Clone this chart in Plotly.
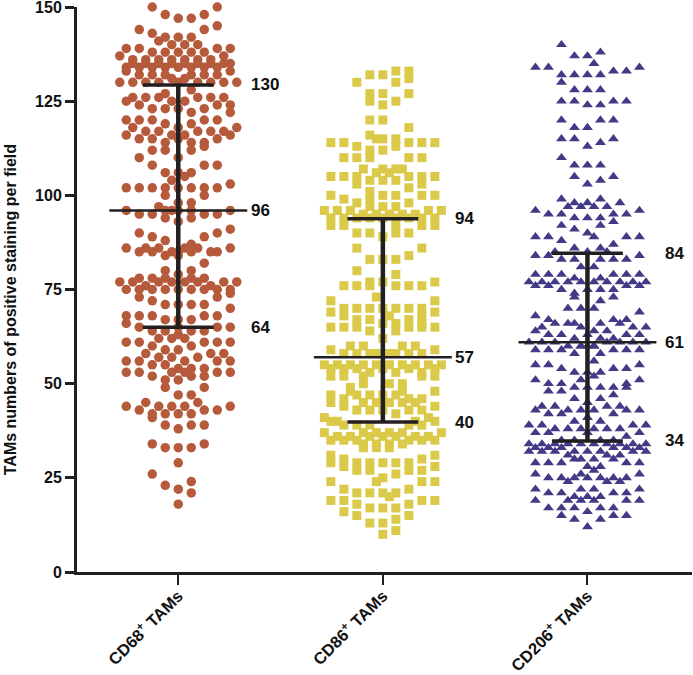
import plotly.graph_objects as go

N = None
categories = ["CD68<sup>+</sup> TAMs", "CD86<sup>+</sup> TAMs", "CD206<sup>+</sup> TAMs"]
y_ticks = [0, 25, 50, 75, 100, 125, 150]
axis_title = "TAMs numbers of positive staining per field"

# Each row lists the values of one swarm row, read from left to right.
# None marks an empty slot of that row.
cd68_rows = [
 [N,N,150,148,147,147,148,150,N],[N,144,N,N,N,N,144,145,N],[N,N,143,142,142,142,N,N,N],
 [N,N,N,141,N,N,140,N,N,N],[N,N,N,N,140,140,N,N,N,N],[139,139,138,138,138,138,138,139,139],
 [137,136,136,136,136,136,136,136,137,N],[134,134,134,134,134,134,134,134,135],
 [N,135,135,135,135,135,135,135,135,N],[133,132,132,132,N,132,132,132,133],
 [130,130,130,130,131,131,130,130,130,130],[N,N,N,N,130,N,N,N,N],
 [125,N,N,127,N,128,N,N,N],[N,126,126,126,125,125,126,126,126,N],
 [N,124,123,123,123,122,123,124,124],[120,120,120,119,118,119,120,120,122],
 [N,118,117,117,N,N,117,117,117,118],[116,115,115,114,115,114,114,115,116],
 [N,N,N,N,116,116,N,N,N,N],[N,N,112,112,N,112,113,N,N],
 [N,110,108,106,110,106,108,108,N],[N,N,N,N,106,N,N,N,N],[N,N,N,N,104,105,N,N,N,N],
 [102,102,102,102,102,102,102,102,103],[N,N,N,100,98,98,100,N,N],[N,N,N,97,N,N,N,N,N,N],
 [96,95,95,96,96,96,95,95,96],[N,N,N,N,96,N,N,N,N,N],[N,90,89,94,93,94,89,90,91],
 [N,N,N,88,N,87,N,N,N],[86,85,85,N,85,85,N,85,86],[N,N,86,86,85,86,86,85,N,N],
 [N,N,N,84,84,N,82,N,N],[N,N,N,80,79,80,N,N,N],[77,77,76,77,77,77,77,76,77,77],
 [N,78,78,78,N,78,78,N,N],[75,75,75,75,75,75,75,75,75],[N,73,72,71,71,71,71,73,74],
 [N,N,N,N,N,N,N,N,70],[68,68,68,67,67,67,68,68,N],[66,65,64,64,65,64,64,65,65],
 [N,N,N,62,62,62,N,N,N,N],[N,N,N,N,63,N,N,N,N],[61,61,60,59,59,60,61,61,61],
 [N,N,58,57,57,N,57,58,58,N],[56,56,55,55,54,54,54,56,56],[N,N,N,N,N,56,N,N,N,N],
 [53,53,52,51,51,52,52,53,53],[N,N,N,N,53,53,N,N,N,N],[N,N,N,49,47,47,49,N,N],
 [N,N,45,44,44,44,45,N,N,N],[44,43,42,42,42,42,43,43,44],[N,N,41,39,38,39,39,N,N],
 [N,N,34,33,33,33,34,N,N],[N,N,N,N,29,N,N,N,N],[N,N,26,23,22,24,N,N,N],
 [N,N,N,N,18,21,N,N,N],
]
cd86_rows = [
 [N,N,130,132,132,133,133,N,N],[N,N,N,N,N,130,131,N,N],[N,N,N,127,127,N,127,N,N],
 [N,N,N,125,124,125,N,N,N],[N,N,N,120,120,N,118,N,N],[N,N,N,116,115,115,N,N,N],
 [N,N,N,N,115,N,N,N,N,N],[114,114,113,112,112,113,114,114,114],[N,110,110,110,N,N,110,110,N],
 [N,N,N,107,106,106,107,N,N,N],[N,N,N,N,107,107,N,N,N],[105,105,105,104,104,104,105,105,105],
 [N,N,103,101,N,N,102,103,N],[100,99,98,99,100,100,98,100,100],[N,N,N,97,97,97,N,N,N],
 [96,96,96,95,95,95,95,95,96,96],[94,94,94,94,94,94,94,94,94],[92,92,N,N,N,92,N,92,92],
 [N,N,90,90,89,90,90,N,N],[N,N,86,83,83,83,84,86,N],[N,N,80,77,77,79,N,N,N],
 [N,76,76,76,N,76,76,76,77],[72,N,N,N,N,N,N,N,72],[N,N,N,N,73,N,N,N,N,N],
 [69,70,70,70,70,70,70,70,69],[N,68,67,67,66,66,67,68,N],[N,N,N,N,N,68,N,N,N,N],
 [65,65,65,64,62,64,65,66,65],[N,N,N,N,N,N,N,65,N],[N,N,60,60,N,N,60,60,N,N],
 [59,58,58,58,N,58,58,58,59],[N,N,N,N,58,58,N,N,N,N],[55,55,55,55,55,55,55,55,55,55],
 [54,54,54,53,54,53,54,53,54],[52,52,N,N,N,N,N,52,52],[N,N,N,52,N,N,N,N,N,N],
 [N,N,49,50,N,50,50,N,N,N],[47,46,47,47,47,47,46,46,48],[N,N,48,N,N,N,48,N,N,N],
 [45,44,N,N,N,N,N,N,44],[N,N,N,45,45,45,45,45,N,N],[N,N,43,43,43,42,43,43,N],
 [41,40,N,N,N,N,N,40,41,N],[40,39,39,39,N,N,39,39,40],[37,N,N,37,37,37,37,N,N,37],
 [N,36,36,N,N,N,N,36,36,N],[35,35,35,36,36,36,35,35,35],[N,N,N,34,34,34,34,N,N,N],
 [N,N,N,33,33,33,N,N,N,N],[31,30,29,29,N,N,29,30,31],[29,28,27,27,29,29,27,27,28],
 [24,N,N,N,25,26,N,24,24],[N,N,N,N,24,N,N,N,N,N],[N,22,21,21,21,21,22,N,N],
 [N,N,N,N,N,20,N,N,N,N],[19,19,18,17,17,17,18,19,19],[N,16,15,N,N,14,15,N,N],
 [N,N,N,13,13,11,N,N,N],[N,N,N,N,10,N,N,N,N],
]
cd206_rows = [
 [N,N,140,137,137,138,N,N,N],[N,N,N,N,N,135,N,N,N,N],[134,134,N,N,N,N,N,N,134],
 [N,N,132,132,132,132,133,133,N],[N,N,130,128,128,128,N,N,N],[N,N,125,125,124,124,125,125,N],
 [N,N,120,118,118,120,120,N,N],[N,N,115,115,113,114,115,N,N],[N,N,110,108,108,108,N,N,N],
 [N,N,N,105,103,104,105,N,N],[N,N,99,98,98,99,N,N,N],[N,N,N,97,97,97,97,98,N,N],
 [96,95,95,94,94,94,95,95,96],[N,N,92,91,90,92,93,N,N],[N,N,N,N,N,89,N,N,N,N],
 [89,89,88,86,85,86,87,89,89],[N,N,85,N,N,N,85,N,N,N],[84,84,83,83,N,83,83,83,84],
 [N,N,N,N,81,81,N,N,N,N],[79,79,79,78,N,78,79,79,79],[77,77,77,77,77,77,77,77,77,77],
 [76,76,75,74,75,75,75,N,76],[N,N,N,73,N,N,73,76,N],[N,N,N,N,N,72,N,N,N],
 [N,N,N,70,70,70,N,N,N,N],[68,67,N,N,N,N,67,67,69],[N,65,66,66,65,N,64,66,65,65],
 [N,N,N,66,N,66,N,N,N],[64,63,63,62,63,62,62,63,63],[N,N,N,N,N,64,N,N,N,N],
 [61,61,61,60,60,60,61,61,61,61],[59,59,59,58,60,58,59,59,59],[N,N,N,N,60,60,N,N,N,N],
 [N,N,N,N,N,56,N,N,N,N],[55,55,54,53,53,53,54,54,55],[N,N,N,N,51,52,N,N,N,N],
 [51,N,N,N,N,N,N,N,51],[N,50,50,49,49,49,49,50,N],[N,48,48,N,N,N,47,49,N],
 [N,N,N,46,45,46,N,N,N],[N,44,44,43,43,43,44,44,N,N],[43,42,42,N,N,N,42,43,43],
 [N,N,N,40,41,40,N,N,N],[39,39,38,38,38,38,38,38,39,39],[37,37,N,N,37,N,N,N,37],
 [N,N,35,35,N,35,35,36,N],[34,34,34,34,34,34,34,34,34,34],[33,33,33,32,32,32,33,33,33],
 [32,32,32,31,N,N,31,31,32,32],[29,29,29,30,28,28,30,29,29],[N,N,N,N,30,30,N,N,N,N],
 [N,N,N,N,N,27,N,N,N,N],[26,25,25,N,N,25,25,25,26],[N,N,N,N,26,N,N,N,N,N],
 [N,N,N,24,N,N,24,24,N,N],[N,N,N,25,25,N,N,N,N],[22,21,21,N,N,N,21,21,22],
 [N,N,N,N,22,22,N,N,N,N],[19,N,N,20,20,20,N,19,19],[N,N,N,19,19,19,N,N,N,N],
 [N,17,17,17,16,17,17,N,N],[N,N,15,14,12,14,15,15,N],
]

group_rows = [cd68_rows, cd86_rows, cd206_rows]
colors = ["#B55B3B", "#DBCA4A", "#423A85"]
symbols = ["circle", "square", "triangle-up"]
sizes = [9.5, 9, 9.5]

middle = [96, 57, 61]
upper = [129.3, 93.8, 84.6]
lower = [65, 39.8, 34.8]
middle_labels = ["96", "57", "61"]
upper_labels = ["130", "94", "84"]
lower_labels = ["64", "40", "34"]

STEP = 13 / 204.6
MID_HALF = 0.337
CAP_HALF = 0.173
INK = "#231F20"

fig = go.Figure()
for g, rows in enumerate(group_rows):
    xs, ys = [], []
    for row in rows:
        for k, v in enumerate(row):
            if v is not None:
                xs.append(g + (k - (len(row) - 1) / 2) * STEP)
                ys.append(v)
    fig.add_trace(go.Scatter(x=xs, y=ys, mode="markers", cliponaxis=False, showlegend=False,
                             marker=dict(color=colors[g], symbol=symbols[g], size=sizes[g], line_width=0)))

for g in range(3):
    fig.add_trace(go.Scatter(x=[g, g], y=[lower[g], upper[g]], mode="lines", showlegend=False,
                             line=dict(color=INK, width=4.5)))
    for val in (lower[g], upper[g]):
        fig.add_trace(go.Scatter(x=[g - CAP_HALF, g + CAP_HALF], y=[val, val], mode="lines",
                                 showlegend=False, line=dict(color=INK, width=3.5)))
    fig.add_trace(go.Scatter(x=[g - MID_HALF, g + MID_HALF], y=[middle[g], middle[g]], mode="lines",
                             showlegend=False, line=dict(color=INK, width=2.5)))
    for val, lab in ((upper[g], upper_labels[g]), (middle[g], middle_labels[g]), (lower[g], lower_labels[g])):
        fig.add_annotation(x=g + (0.345 if g < 2 else 0.37), y=val, text=lab, showarrow=False,
                           xanchor="left", yanchor="middle",
                           font=dict(family="Liberation Sans", size=17, color="#111111", weight=700))

fig.add_annotation(xref="paper", yref="paper", x=-0.109, y=0.465, text=axis_title, textangle=-90,
                   showarrow=False, xanchor="center", yanchor="middle",
                   font=dict(family="Liberation Sans", size=16, color="#111111", weight=700))

fig.update_layout(
    width=693, height=675, autosize=False, template=None,
    paper_bgcolor="white", plot_bgcolor="white", showlegend=False,
    margin=dict(l=77, r=1, t=7, b=103),
    font=dict(family="Liberation Sans", size=15, color="#111111", weight=700),
    xaxis=dict(range=[-0.495, 2.511], tickmode="array", tickvals=[0, 1, 2], ticktext=categories,
               tickangle=-45, ticks="outside", ticklen=10, tickwidth=2, tickcolor=INK,
               ticklabelstandoff=-5, ticklabeloverflow="allow",
               showline=True, linecolor=INK, linewidth=3, showgrid=False, zeroline=False,
               tickfont=dict(family="Liberation Sans", size=16.5, weight=700)),
    yaxis=dict(range=[0, 150], tickmode="array", tickvals=y_ticks,
               ticks="outside", ticklen=9, tickwidth=2.5, tickcolor=INK, ticklabeloverflow="allow",
               showline=True, linecolor=INK, linewidth=3, showgrid=False, zeroline=False,
               tickfont=dict(family="Liberation Sans", size=16, weight=700)),
)
fig.write_html("out.html", config={"displayModeBar": False},
               post_script="document.body.style.margin='0';document.documentElement.style.overflow='hidden';")
